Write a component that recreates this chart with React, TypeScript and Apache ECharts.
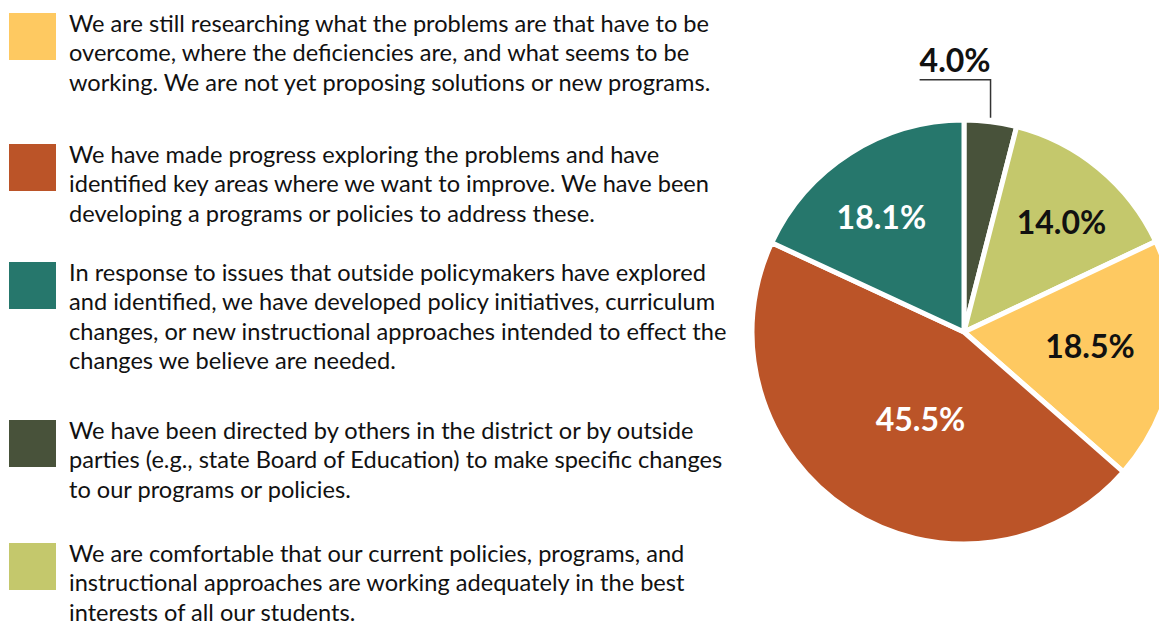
import React, { useEffect, useRef } from "react";
import * as echarts from "echarts";

// Legend order
const categories = [
  "We are still researching what the problems are that have to be\novercome, where the deficiencies are, and what seems to be\nworking. We are not yet proposing solutions or new programs.",
  "We have made progress exploring the problems and have\nidentified key areas where we want to improve. We have been\ndeveloping a programs or policies to address these.",
  "In response to issues that outside policymakers have explored\nand identified, we have developed policy initiatives, curriculum\nchanges, or new instructional approaches intended to effect the\nchanges we believe are needed.",
  "We have been directed by others in the district or by outside\nparties (e.g., state Board of Education) to make specific changes\nto our programs or policies.",
  "We are comfortable that our current policies, programs, and\ninstructional approaches are working adequately in the best\ninterests of all our students.",
];
const values = [18.5, 45.5, 18.1, 4.0, 14.0];
const colors = ["#FEC961", "#BB5428", "#26776C", "#48523A", "#C4C86C"];
// order of slices clockwise from 12 o'clock
const pieOrder = [3, 4, 0, 1, 2];
const labelColors = ["#111111", "#ffffff", "#ffffff", "#111111", "#111111"];

// styling: legend block tops and label nudges (pie order)
const legendTops = [13, 144, 262, 420, 543];
const labelNudge: [number, number][] = [
  [0, 0],
  [28, -26],
  [18, -2],
  [16, -5],
  [-24, -24],
];

export default function App() {
  const ref = useRef<HTMLDivElement>(null);
  useEffect(() => {
    if (!ref.current) return;
    const chart = echarts.init(ref.current, null, { renderer: "svg" });
    const fontFamily = "Lato, 'Noto Sans', sans-serif";
    const graphics: any[] = [];
    categories.forEach((c, i) => {
      graphics.push({
        type: "rect",
        left: 9,
        top: legendTops[i],
        shape: { width: 47, height: 47 },
        style: { fill: colors[i] },
      });
      graphics.push({
        type: "text",
        left: 69,
        top: legendTops[i] - 5,
        style: {
          text: c,
          fill: "#111111",
          font: `23.6px ${fontFamily}`,
          lineHeight: 29.5,
        },
      });
    });

    const data = pieOrder.map((idx, k) => ({
      name: categories[idx],
      value: values[idx],
      itemStyle: { color: colors[idx] },
      label: {
        position: k === 0 ? "outside" : "inside",
        color: labelColors[idx],
      },
      labelLine: { show: k === 0 },
    }));

    chart.setOption({
      animation: false,
      graphic: graphics,
      series: [
        {
          type: "pie",
          center: [964, 332],
          radius: [0, 212],
          startAngle: 90,
          clockwise: true,
          avoidLabelOverlap: false,
          itemStyle: { borderColor: "#ffffff", borderWidth: 5 },
          label: {
            show: true,
            formatter: (p: any) => p.value.toFixed(1) + "%",
            fontFamily,
            fontWeight: "bold",
            fontSize: 32,
          },
          labelLine: {
            show: false,
            length: 40,
            length2: 10,
            lineStyle: { color: "#333333", width: 1.5 },
          },
          emphasis: { disabled: true },
          labelLayout: (params: any) => {
            const k = params.dataIndex;
            if (k === 0 && params.labelLinePoints) {
              const p0 = params.labelLinePoints[0];
              const top = p0[1] - 42;
              const w = params.labelRect.width;
              return {
                x: p0[0] - w,
                y: top - 4,
                align: "left",
                verticalAlign: "bottom",
                labelLinePoints: [
                  [p0[0], p0[1] - 4],
                  [p0[0], top],
                  [p0[0] - w, top],
                ],
              };
            }
            return { dx: labelNudge[k][0], dy: labelNudge[k][1] };
          },
          data,
        },
      ],
    });
    return () => chart.dispose();
  }, []);
  return (
    <div
      ref={ref}
      style={{ position: "fixed", left: 0, top: 0, width: 1159, height: 622, background: "#fff" }}
    />
  );
}
